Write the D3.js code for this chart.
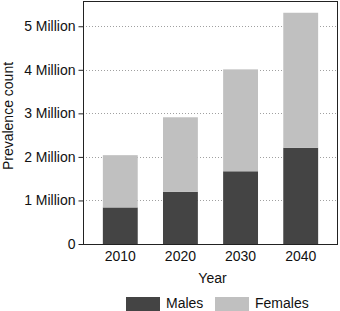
<!DOCTYPE html>
<html lang="en">
<head>
    <meta charset="UTF-8">
    <title>Prevalence count by year</title>
    <script src="https://d3js.org/d3.v7.min.js"></script>
    <style>
        body { margin: 0; background: #fff; }
        svg { display: block; font-family: 'Liberation Sans', Arial, sans-serif; }
    </style>
</head>
<body>
    <div id="chart"></div>
    <script>
        // data (millions)
        var years = ['2010', '2020', '2030', '2040'];
        var males = [0.84, 1.20, 1.67, 2.21];
        var females = [1.20, 1.71, 2.34, 3.10];
        var yTicks = [0, 1, 2, 3, 4, 5];
        var seriesNames = ['Males', 'Females'];
        var seriesColors = ['#444444', '#c0c0c0'];

        var svgwidth = 340, svgheight = 311;
        // note: "top" is a reserved window property, so use plotTop
        var plotLeft = 83, plotRight = 338, plotTop = 1, plotBottom = 244;
        var fontSize = '14px';

        var svg = d3.select('#chart').append('svg')
            .attr('width', svgwidth)
            .attr('height', svgheight);

        var x_scale = d3.scaleBand()
            .domain(years)
            .range([plotLeft, plotRight])
            .paddingInner(0.42)
            .paddingOuter(0.33);

        var y_scale = d3.scaleLinear()
            .domain([0, 5.58])
            .range([plotBottom, plotTop]);

        // dotted grid lines
        svg.append('g')
            .selectAll('line')
            .data(yTicks.filter(d => d > 0))
            .join('line')
            .attr('x1', plotLeft)
            .attr('x2', plotRight)
            .attr('y1', d => Math.round(y_scale(d)) + 0.5)
            .attr('y2', d => Math.round(y_scale(d)) + 0.5)
            .attr('stroke', '#a0a0a0')
            .attr('stroke-width', 1)
            .attr('stroke-dasharray', '1,2');

        // stacked bars
        var stackData = years.map((y, i) => ({ year: y, Males: males[i], Females: females[i] }));
        var stacked = d3.stack().keys(seriesNames)(stackData);

        svg.append('g')
            .selectAll('g')
            .data(stacked)
            .join('g')
            .attr('fill', (d, i) => seriesColors[i])
            .selectAll('rect')
            .data(d => d)
            .join('rect')
            .attr('x', d => x_scale(d.data.year))
            .attr('y', d => y_scale(d[1]))
            .attr('width', x_scale.bandwidth())
            .attr('height', d => y_scale(d[0]) - y_scale(d[1]));

        // panel border
        svg.append('rect')
            .attr('x', plotLeft + 0.5)
            .attr('y', plotTop + 0.5)
            .attr('width', plotRight - plotLeft - 1)
            .attr('height', plotBottom - plotTop)
            .attr('fill', 'none')
            .attr('stroke', '#222')
            .attr('stroke-width', 1);

        // y axis
        var yAxis = svg.append('g')
            .attr('transform', 'translate(' + (plotLeft + 0.5) + ',0)')
            .call(d3.axisLeft(y_scale)
                .tickValues(yTicks)
                .tickSize(5)
                .tickPadding(3)
                .tickFormat(d => d === 0 ? '0' : d + ' Million'));
        yAxis.select('.domain').remove();
        yAxis.selectAll('line').attr('stroke', '#222');
        yAxis.selectAll('text')
            .attr('font-size', fontSize)
            .attr('fill', '#111')
            .attr('font-family', "'Liberation Sans', Arial, sans-serif");

        // x axis labels
        var xAxis = svg.append('g')
            .attr('transform', 'translate(0,' + plotBottom + ')')
            .call(d3.axisBottom(x_scale).tickSize(0).tickPadding(7));
        xAxis.select('.domain').remove();
        xAxis.selectAll('text')
            .attr('font-size', fontSize)
            .attr('fill', '#111')
            .attr('font-family', "'Liberation Sans', Arial, sans-serif");

        // axis titles
        svg.append('text')
            .attr('x', (plotLeft + plotRight) / 2 + 2)
            .attr('y', 283)
            .attr('text-anchor', 'middle')
            .attr('font-size', fontSize)
            .attr('fill', '#111')
            .text('Year');

        svg.append('text')
            .attr('transform', 'translate(13,116) rotate(-90)')
            .attr('text-anchor', 'middle')
            .attr('font-size', fontSize)
            .attr('fill', '#111')
            .text('Prevalence count');

        // legend
        var legendX = [126, 215];
        var legend = svg.append('g')
            .selectAll('g')
            .data(seriesNames)
            .join('g')
            .attr('transform', (d, i) => 'translate(' + legendX[i] + ',297)');
        legend.append('rect')
            .attr('width', 34)
            .attr('height', 14)
            .attr('fill', (d, i) => seriesColors[i]);
        legend.append('text')
            .attr('x', 40)
            .attr('y', 11)
            .attr('font-size', fontSize)
            .attr('fill', '#111')
            .text(d => d);
    </script>
</body>
</html>
